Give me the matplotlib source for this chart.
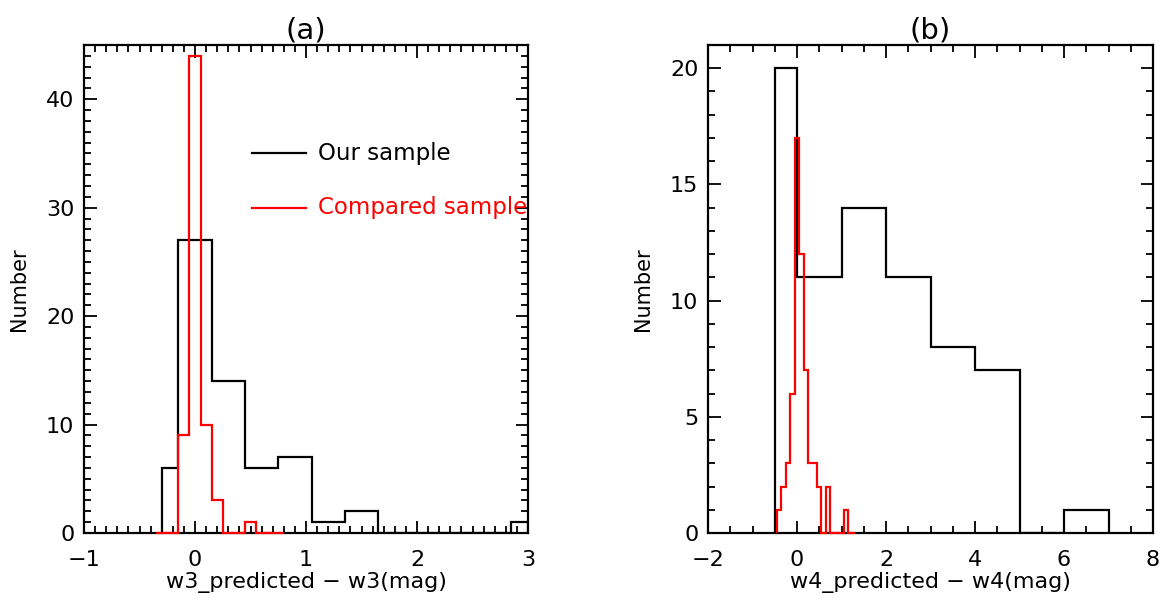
import matplotlib
matplotlib.use("Agg")
import matplotlib.pyplot as plt
from matplotlib.ticker import MultipleLocator

# ---- Data: panel (a) w3 ----
a_our_edges = [-0.3, -0.15, 0.15, 0.45, 0.75, 1.05, 1.35, 1.65, 1.95, 2.25, 2.55, 2.85, 3.0]
a_our_counts = [6, 27, 14, 6, 7, 1, 2, 0, 0, 0, 0, 1]
a_cmp_edges = [-0.35, -0.25, -0.15, -0.05, 0.05, 0.15, 0.25, 0.35, 0.45, 0.55, 0.65, 0.75, 0.8]
a_cmp_counts = [0, 0, 9, 44, 10, 3, 0, 0, 1, 0, 0, 0]

# ---- Data: panel (b) w4 ----
b_our_edges = [-0.5, 0, 1, 2, 3, 4, 5, 6, 7]
b_our_counts = [20, 11, 14, 11, 8, 7, 0, 1]
b_cmp_edges = [-0.45, -0.35, -0.25, -0.15, -0.05, 0.05, 0.15, 0.25, 0.35, 0.45,
               0.55, 0.65, 0.75, 0.85, 0.95, 1.05, 1.15, 1.3]
b_cmp_counts = [1, 2, 3, 6, 17, 12, 7, 3, 3, 2, 0, 2, 0, 0, 0, 1, 0]

titles = ["(a)", "(b)"]
xlabels = ["w3_predicted \u2212 w3(mag)", "w4_predicted \u2212 w4(mag)"]
legend_labels = ["Our sample", "Compared sample"]

plt.rcParams['font.family'] = ['DejaVu Sans']
plt.rcParams['axes.unicode_minus'] = True

fig = plt.figure(figsize=(11.68, 6.14), dpi=100)
ax1 = fig.add_axes([84/1168, 1-533/614, 444/1168, 488/614])
ax2 = fig.add_axes([708/1168, 1-533/614, 445/1168, 488/614])

FS = 16
lw = 1.6

def style(ax, xlim, ylim, xmaj, xmin, ymaj, ymin, title, xlabel):
    ax.set_xlim(*xlim)
    ax.set_ylim(*ylim)
    ax.xaxis.set_major_locator(MultipleLocator(xmaj))
    ax.xaxis.set_minor_locator(MultipleLocator(xmin))
    ax.yaxis.set_major_locator(MultipleLocator(ymaj))
    ax.yaxis.set_minor_locator(MultipleLocator(ymin))
    ax.tick_params(which='both', direction='in', top=True, right=True, width=1.3,
                   labelsize=FS)
    ax.tick_params(axis='x', which='both', pad=12)
    ax.tick_params(axis='y', which='both', pad=7)
    ax.tick_params(which='major', length=9)
    ax.tick_params(which='minor', length=5)
    for s in ax.spines.values():
        s.set_linewidth(1.6)
    ax.set_title(title, fontsize=21, pad=5)
    ax.set_xlabel(xlabel, fontsize=FS, labelpad=2)
    ax.set_ylabel("Number", fontsize=15, labelpad=12)

ax1.stairs(a_our_counts, a_our_edges, color='black', lw=lw, baseline=0)
ax1.stairs(a_cmp_counts, a_cmp_edges, color='red', lw=lw, baseline=0, clip_on=False, zorder=5)
style(ax1, (-1, 3), (0, 45), 1, 0.1, 10, 1, titles[0], xlabels[0])

ax1.plot([0.51, 1.0], [35, 35], color='black', lw=lw)
ax1.text(1.11, 35, legend_labels[0], color='black', fontsize=16.5, va='center', ha='left')
ax1.plot([0.51, 1.0], [30, 30], color='red', lw=lw)
ax1.text(1.11, 30, legend_labels[1], color='red', fontsize=16.5, va='center', ha='left')

ax2.stairs(b_our_counts, b_our_edges, color='black', lw=lw, baseline=0)
ax2.stairs(b_cmp_counts, b_cmp_edges, color='red', lw=lw, baseline=0, clip_on=False, zorder=5)
style(ax2, (-2, 8), (0, 21), 2, 0.5, 5, 1, titles[1], xlabels[1])

fig.savefig("out.png", dpi=100)
